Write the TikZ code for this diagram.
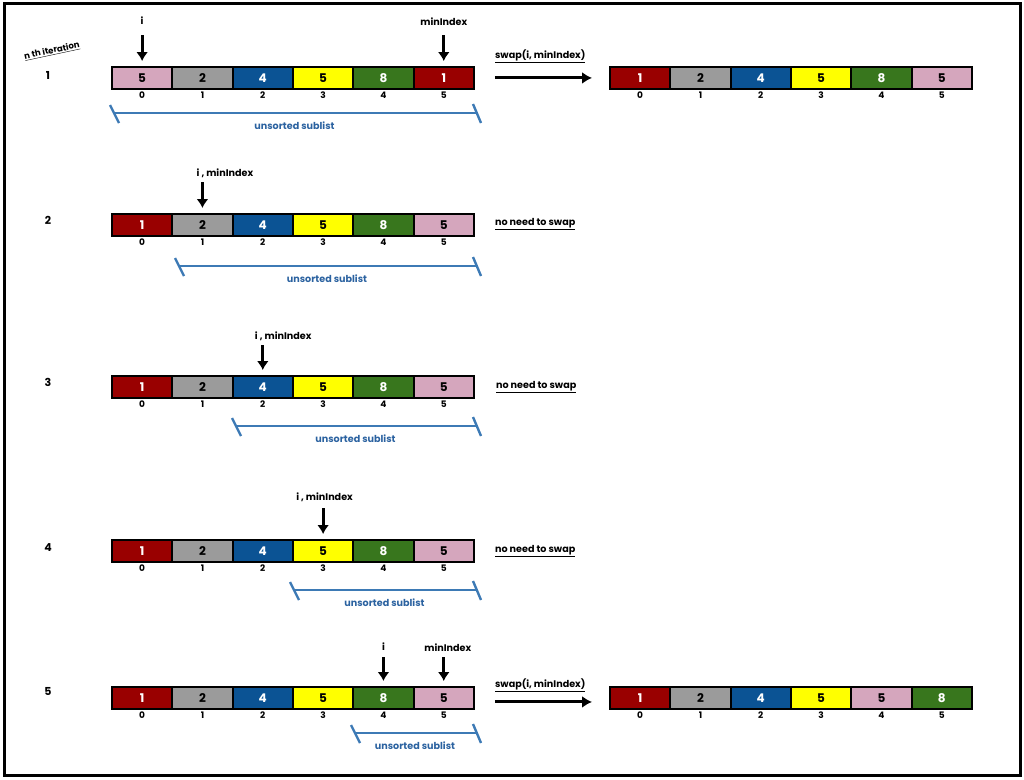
\documentclass[tikz,border=0pt]{standalone}
\usepackage{fontspec}
\setmainfont{Poppins}
\usetikzlibrary{arrows.meta}
\definecolor{cred}{HTML}{990000}
\definecolor{cgray}{HTML}{9B9B9B}
\definecolor{cblue}{HTML}{0B5394}
\definecolor{cyel}{HTML}{FFFF00}
\definecolor{cgreen}{HTML}{38761D}
\definecolor{cpink}{HTML}{D5A6BD}
\definecolor{brkblue}{HTML}{3D7AB5}
\definecolor{subblue}{HTML}{2B62A0}
\tikzset{
  cell/.style={draw=black, line width=1.9pt, minimum width=60.33pt, minimum height=22pt, inner sep=0pt, font=\bfseries\fontsize{12}{12}\selectfont},
  idx/.style={font=\bfseries\fontsize{9}{9}\selectfont, inner sep=0pt, anchor=north},
  lbl/.style={font=\bfseries\fontsize{9.6}{9.6}\selectfont, inner sep=0pt},
  rownum/.style={font=\bfseries\fontsize{11}{11}\selectfont, inner sep=0pt},
  ptr/.style={line width=3pt, -{Latex[length=9pt,width=12pt]}},
  swaparrow/.style={line width=3pt, -{Latex[length=10pt,width=12pt]}},
  brk/.style={draw=brkblue, line width=2.4pt},
  sub/.style={text=subblue, font=\bfseries\fontsize{9.6}{9.6}\selectfont, inner sep=0pt},
  frame/.style={draw=black, line width=3pt},
}
\newcommand\drawarray[4]{%
  \foreach \v/\c/\t [count=\k from 0] in {#4} {
    \node[cell, fill=\c, text=\t, anchor=north west] (#1c\k) at ({#2+\k*60.33},#3) {\v};
    \node[idx] (#1i\k) at ([yshift=-2pt]#1c\k.south) {\k};
  }}
\newcommand\sublist[4]{%
  \draw[brk] ({#2-1},{#4-8}) -- ({#2+8},{#4+10});
  \draw[brk] ({#2+3},#4) -- ({#3-1},#4);
  \draw[brk] ({#3-5},{#4-9}) -- ({#3+3},{#4+10});
  \node[sub] (#1) at ({(#2+#3)/2},{#4+13}) {unsorted sublist};}
\begin{document}
\begin{tikzpicture}[x=1pt,y=-1pt]
\useasboundingbox (0,0) rectangle (1024,779);
\draw[frame] (4,3) rectangle (1020,775);

\node[lbl, rotate=12, font=\bfseries\fontsize{8.5}{8.5}\selectfont] (iter) at (52,51) {\underline{n th iteration}};
\node[rownum] (n1) at (48,75) {1};
\node[rownum] (n2) at (48,220) {2};
\node[rownum] (n3) at (48,382) {3};
\node[rownum] (n4) at (48,548) {4};
\node[rownum] (n5) at (48,691) {5};

% Row 1
\drawarray{ra}{111}{66}{5/cpink/black, 2/cgray/black, 4/cblue/white, 5/cyel/black, 8/cgreen/white, 1/cred/white}
\drawarray{sa}{609}{66}{1/cred/white, 2/cgray/black, 4/cblue/white, 5/cyel/black, 8/cgreen/white, 5/cpink/black}
\node[lbl] (pai) at ([yshift=45pt]rac0.north) {i};
\draw[ptr] ([yshift=31pt]rac0.north) -- ([yshift=5pt]rac0.north);
\node[lbl] (pam) at ([yshift=44pt]rac5.north) {minIndex};
\draw[ptr] ([yshift=31pt]rac5.north) -- ([yshift=5pt]rac5.north);
\coordinate (swa0) at ([xshift=20pt]rac5.east);
\draw[swaparrow] (swa0) -- ([xshift=-17pt]sac0.west);
\node[lbl, anchor=south west] (swa) at ([yshift=15pt]swa0) {\underline{swap(i, minIndex)}};
\sublist{ua}{111}{478}{113}

% Row 2
\drawarray{rb}{111}{213}{1/cred/white, 2/cgray/black, 4/cblue/white, 5/cyel/black, 8/cgreen/white, 5/cpink/black}
\node[lbl, anchor=west] (pb) at ([xshift=-6pt,yshift=40pt]rbc1.north) {i , minIndex};
\draw[ptr] ([yshift=31pt]rbc1.north) -- ([yshift=5pt]rbc1.north);
\node[lbl, anchor=west] (nb) at ([xshift=20pt,yshift=1pt]rbc5.east) {\underline{no need to swap}};
\sublist{ub}{176}{478}{266}

% Row 3
\drawarray{rc}{111}{375}{1/cred/white, 2/cgray/black, 4/cblue/white, 5/cyel/black, 8/cgreen/white, 5/cpink/black}
\node[lbl, anchor=west] (pc) at ([xshift=-8pt,yshift=39pt]rcc2.north) {i , minIndex};
\draw[ptr] ([yshift=30pt]rcc2.north) -- ([yshift=5pt]rcc2.north);
\node[lbl, anchor=west] (nc) at ([xshift=21pt,yshift=0pt]rcc5.east) {\underline{no need to swap}};
\sublist{uc}{233}{478}{426}

% Row 4
\drawarray{rd}{111}{539}{1/cred/white, 2/cgray/black, 4/cblue/white, 5/cyel/black, 8/cgreen/white, 5/cpink/black}
\node[lbl, anchor=west] (pd) at ([xshift=-27pt,yshift=42pt]rdc3.north) {i , minIndex};
\draw[ptr] ([yshift=31pt]rdc3.north) -- ([yshift=5pt]rdc3.north);
\node[lbl, anchor=west] (nd) at ([xshift=20pt,yshift=0pt]rdc5.east) {\underline{no need to swap}};
\sublist{ud}{291}{478}{590}

% Row 5
\drawarray{re}{111}{686}{1/cred/white, 2/cgray/black, 4/cblue/white, 5/cyel/black, 8/cgreen/white, 5/cpink/black}
\drawarray{se}{609}{686}{1/cred/white, 2/cgray/black, 4/cblue/white, 5/cyel/black, 5/cpink/black, 8/cgreen/white}
\node[lbl] (pei) at ([yshift=39pt]rec4.north) {i};
\draw[ptr] ([yshift=29pt]rec4.north) -- ([yshift=5pt]rec4.north);
\node[lbl] (pem) at ([xshift=4pt,yshift=38pt]rec5.north) {minIndex};
\draw[ptr] ([yshift=29pt]rec5.north) -- ([yshift=5pt]rec5.north);
\coordinate (swe0) at ([xshift=20pt,yshift=-4pt]rec5.east);
\draw[swaparrow] (swe0) -- ([xshift=-17pt,yshift=-4pt]sec0.west);
\node[lbl, anchor=south west] (swe) at ([yshift=10pt]swe0) {\underline{swap(i, minIndex)}};
\sublist{ue}{352}{478}{733}
\end{tikzpicture}
\end{document}
